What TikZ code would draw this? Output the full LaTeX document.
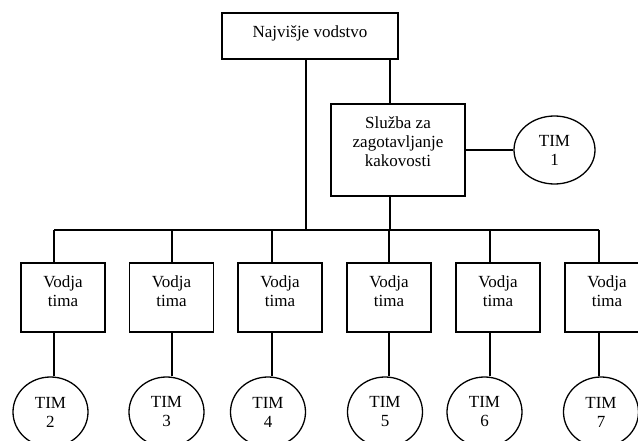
\documentclass[tikz,border=0pt]{standalone}
\usepackage{fontspec}
\setmainfont{Liberation Serif}
\usetikzlibrary{shapes.geometric}
\begin{document}
\begin{tikzpicture}[x=1pt,y=-1pt,
  line width=1.3pt,
  boxshape/.style={draw, rectangle, inner sep=0pt},
  txt/.style={font=\fontsize{17}{19}\selectfont, align=center, inner sep=0pt},
  team/.style={draw, ellipse, inner sep=0pt, font=\fontsize{17}{19}\selectfont, align=center},
]
\useasboundingbox (0,0) rectangle (638,441);
\clip (0,0) rectangle (638,441);

% top management
\node[boxshape, minimum width=176pt, minimum height=46pt] (top) at (310,36) {};
\node[txt, anchor=north] (topt) at ([yshift=-12.4pt]top.north) {Najvišje vodstvo};

% quality service
\node[boxshape, minimum width=134pt, minimum height=92pt] (qual) at (398,150) {};
\node[txt, anchor=north] (qualt) at ([yshift=-12.3pt]qual.north) {Služba za\\zagotavljanje\\kakovosti};

\node[team, minimum width=81pt, minimum height=68pt] (t1) at (554.5,150) {TIM\\1};

% bar coordinates
\coordinate (ltop) at (306,230);
\coordinate (rtop) at (390,230);
\coordinate (b1) at (54,230);
\coordinate (b6) at (599,230);

\draw (top.south -| ltop) -- (ltop);
\draw (top.south -| rtop) -- (qual.north -| rtop);
\draw (qual.south -| rtop) -- (rtop);
\draw (qual.east) -- (t1.west);
\draw (b1) -- (b6);

% team leaders and teams
\foreach \i/\bx/\dx/\cx/\n in {1/63/54/50.5/2, 2/171.5/172/166.5/3, 3/280/272/268/4, 4/389/389/385/5, 5/498/490/484.5/6, 6/607/599/601/7}{
  \coordinate (d\i) at (\dx,230);
  \node[boxshape, minimum width=84pt, minimum height=69pt] (v\i) at (\bx,297.5) {};
  \node[txt, anchor=north] (vt\i) at ([yshift=-13.2pt]v\i.north) {Vodja\\tima};
  \node[team, minimum width=75pt, minimum height=70pt] (tm\i) at (\cx,412) {TIM\\\n};
  \draw (d\i) -- (d\i |- v\i.north);
  \draw (v\i.south -| d\i) -- (d\i |- tm\i.north);
}
\end{tikzpicture}
\end{document}
